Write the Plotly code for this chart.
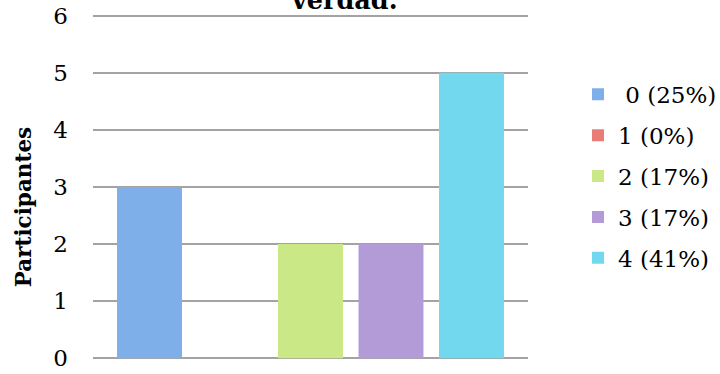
import plotly.graph_objects as go

categories = ["0", "1", "2", "3", "4"]
participants = [3, 0, 2, 2, 5]
legend_labels = ["\u00a00 (25%)", "1 (0%)", "2 (17%)", "3 (17%)", "4 (41%)"]
colors = ["#7fafe9", "#ea7c77", "#cbe886", "#b39bd7", "#72d8ed"]
y_ticks = [0, 1, 2, 3, 4, 5, 6]
title_text = "verdad."
y_title = "Participantes"

FONT = "DejaVu Serif"

fig = go.Figure()
for cat, val, lab, col in zip(categories, participants, legend_labels, colors):
    fig.add_trace(go.Bar(
        x=[cat], y=[val], name=lab, width=0.807,
        marker=dict(color=col, line=dict(width=0)),
        legendgroup=lab, hoverinfo="skip",
    ))

fig.update_layout(
    width=720, height=374,
    margin=dict(l=93, r=192, t=14.3, b=14.3, autoexpand=False),
    paper_bgcolor="white", plot_bgcolor="white",
    barmode="overlay",
    showlegend=True,
    font=dict(family=FONT, size=23, color="#000000"),
    legend=dict(
        x=1.446, xanchor="right", y=0.83, yanchor="top",
        font=dict(family=FONT, size=23, color="#000000"),
        traceorder="grouped", tracegroupgap=8,
        bgcolor="rgba(0,0,0,0)", borderwidth=0,
    ),
    xaxis=dict(
        type="category", categoryorder="array", categoryarray=categories,
        range=[-0.702, 4.702], showticklabels=False, showgrid=False,
        zeroline=False, showline=False, ticks="", automargin=False,
    ),
    yaxis=dict(
        range=[-0.03, 6.03], tickvals=y_ticks, showgrid=True, gridcolor="#a3a3a3",
        gridwidth=1.6, zeroline=False, showline=False, ticks="",
        ticklabelstandoff=24, automargin=False,
        tickfont=dict(family=FONT, size=23, color="#000000"),
    ),
    annotations=[
        dict(text="<b>" + title_text + "</b>", xref="paper", yref="paper",
             x=0.579, y=0.991, xanchor="center", yanchor="bottom",
             showarrow=False, font=dict(family=FONT, size=25.5, color="#000000")),
        dict(text="<b>" + y_title + "</b>", xref="paper", yref="paper",
             x=-0.161, y=0.444, xanchor="center", yanchor="middle",
             textangle=-90, showarrow=False,
             font=dict(family=FONT, size=21.5, color="#000000")),
    ],
)

fig.write_html(
    "out.html",
    config={"displayModeBar": False},
    post_script="document.body.style.margin='0';document.body.style.padding='0';",
)
